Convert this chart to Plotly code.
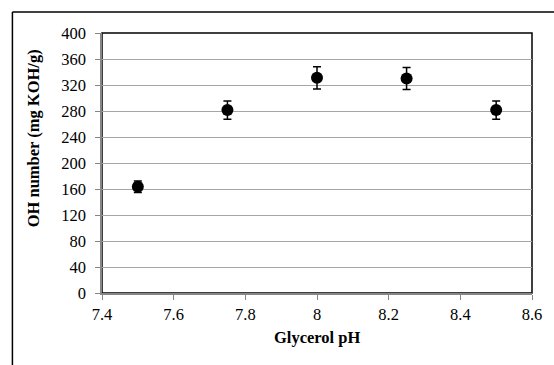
import plotly.graph_objects as go

ph = [7.5, 7.75, 8.0, 8.25, 8.5]
oh_number = [163.5, 281.5, 331, 330, 281.5]
oh_error = [9, 14, 17, 17, 14]

W, H = 554, 365
ml, mr, mt, mb = 102, 20, 33, 72
pw, ph_ = W - ml - mr, H - mt - mb

def px_x(x):
    return (x - ml) / pw

def px_y(y):
    return (H - mb - y) / ph_

font = dict(family="Liberation Serif", color="black")

fig = go.Figure(go.Scatter(
    x=ph, y=oh_number, mode="markers",
    marker=dict(symbol="circle", size=12, color="black"),
    error_y=dict(type="data", array=oh_error, visible=True, color="black",
                 thickness=1.5, width=4),
    showlegend=False,
))

fig.update_layout(
    width=W, height=H,
    margin=dict(l=ml, r=mr, t=mt, b=mb),
    paper_bgcolor="white", plot_bgcolor="white",
    font=dict(size=16.5, **font),
    xaxis=dict(range=[7.4, 8.6], dtick=0.2, tick0=7.4, showgrid=False,
               showline=True, linecolor="#868686", linewidth=1.5,
               ticks="outside", ticklen=5, tickcolor="#868686", zeroline=False,
               tickfont=dict(size=16.5, **font), tickformat="~g"),
    yaxis=dict(range=[0, 400], dtick=40, showgrid=True, gridcolor="#a6a6a6",
               gridwidth=1.2, showline=True, linecolor="#868686", linewidth=1.5,
               ticks="outside", ticklen=5, tickcolor="#868686", zeroline=False,
               tickfont=dict(size=16.5, **font), ticklabelstandoff=6),
    shapes=[
        dict(type="rect", xref="paper", yref="paper", x0=0, x1=1, y0=0, y1=1,
             line=dict(color="black", width=1.5), layer="below"),
        dict(type="line", xref="paper", yref="paper",
             x0=px_x(12), x1=px_x(560), y0=px_y(12), y1=px_y(12),
             line=dict(color="black", width=1.5)),
        dict(type="line", xref="paper", yref="paper",
             x0=px_x(12), x1=px_x(12), y0=px_y(12), y1=px_y(370),
             line=dict(color="black", width=1.5)),
    ],
    annotations=[
        dict(text="<b>Glycerol pH</b>", xref="paper", yref="paper",
             x=px_x(318), y=px_y(337), showarrow=False,
             xanchor="center", yanchor="middle", font=dict(size=16.5, **font)),
        dict(text="<b>OH number (mg KOH/g)</b>", xref="paper", yref="paper",
             x=px_x(33), y=px_y(138), showarrow=False, textangle=-90,
             xanchor="center", yanchor="middle", font=dict(size=16.5, **font)),
    ],
)

fig.write_html("out.html")
